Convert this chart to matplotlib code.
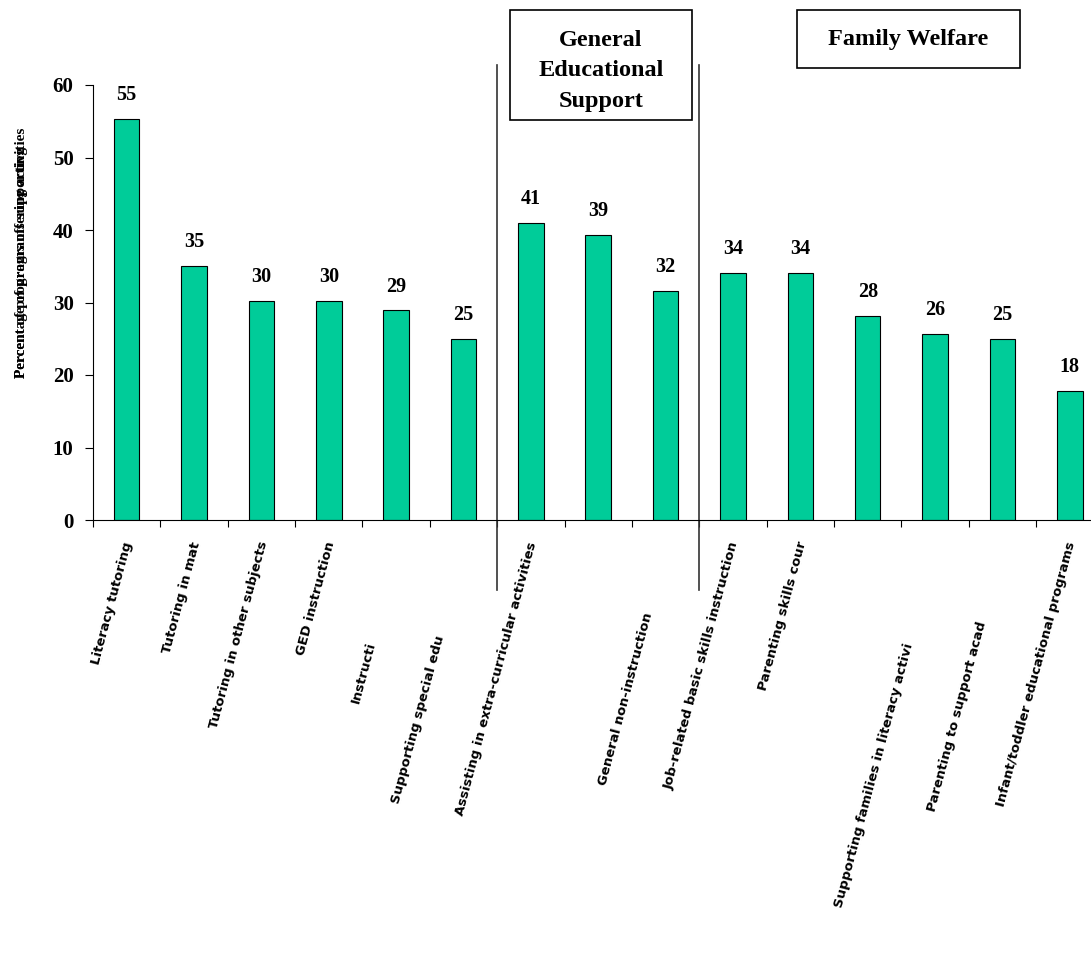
import numpy as np
import matplotlib.pyplot as plt
from matplotlib.patches import Rectangle
from matplotlib import transforms

# data
categories = [
    "Literacy tutoring",
    "Tutoring in mat",
    "Tutoring in other subjects",
    "GED instruction",
    "Instructi",
    "Supporting special edu",
    "Assisting in extra-curricular activities",
    "",
    "General non-instruction",
    "Job-related basic skills instruction",
    "Parenting skills cour",
    "",
    "Supporting families in literacy activi",
    "Parenting to support acad",
    "Infant/toddler educational programs",
]
values = [55.3, 35.1, 30.2, 30.2, 28.9, 25.0, 41.0, 39.3, 31.6,
          34.1, 34.1, 28.2, 25.7, 25.0, 17.8]
group_names = ["General\nEducational\nSupport", "Family Welfare"]
ylabel_a = "Percent of programs offering activities"
ylabel_b = "Percentage of programs supporting"

# label clipping in the original: visible part starts lower (pixels)
label_shift = [0, 0, 0, 0, 104, 97, 0, 0, 74, 0, 0, 0, 105, 83, 0]

W, H, DPI = 1091, 960, 100
fig = plt.figure(figsize=(W / DPI, H / DPI), dpi=DPI)
ax = fig.add_axes([93 / W, 1 - 520 / H, 997 / W, 435 / H])

serif = "Liberation Serif"
bar_color = "#00CC99"

x = np.arange(len(values))
ax.bar(x, values, width=0.38, color=bar_color, edgecolor="black", linewidth=0.8)

for xi, v in zip(x, values):
    ax.annotate(f"{v:.0f}", (xi, v), xytext=(0, 10), textcoords="offset points",
                ha="center", va="bottom", fontsize=14.5, fontweight="bold",
                family=serif)

ax.set_yticks(range(0, 61, 10))
ax.set_xticks(np.arange(-0.5, 14, 1))
ax.set_xticklabels([])
ax.set_xlim(-0.5, 14.3)
ax.set_ylim(0, 60)
ax.tick_params(axis="x", direction="out", length=5, width=0.8)
ax.tick_params(axis="y", direction="out", length=6, width=0.8, pad=8)
for lab in ax.get_yticklabels():
    lab.set_fontsize(15)
    lab.set_fontweight("bold")
    lab.set_family(serif)
for s in ["top", "right"]:
    ax.spines[s].set_visible(False)
for s in ["left", "bottom"]:
    ax.spines[s].set_linewidth(0.8)

# rotated category labels
ang = np.deg2rad(75)
base = transforms.blended_transform_factory(ax.transData, ax.transAxes)
for xi, lab, sh in zip(x, categories, label_shift):
    if not lab:
        continue
    off = transforms.ScaledTranslation(-sh * np.cos(ang) / DPI,
                                       -sh * np.sin(ang) / DPI,
                                       fig.dpi_scale_trans)
    ax.text(xi + 0.03, -0.05, lab, transform=base + off, rotation=75,
            rotation_mode="anchor", ha="right", va="center",
            fontsize=9.5, fontweight="bold", family="DejaVu Sans",
            clip_on=False)

# group dividers
for xd in [5.5, 8.5]:
    ax.plot([xd, xd], [1 + 20 / 435, -70 / 435], transform=base,
            color="#333333", linewidth=1.2, clip_on=False)

# group title boxes (figure pixel coords)
boxes = [(510, 10, 692, 120), (797, 10, 1020, 68)]
text_dy = [6, 0]
for (x0, y0, x1, y1), name, dy in zip(boxes, group_names, text_dy):
    fig.patches.append(Rectangle((x0 / W, 1 - y1 / H), (x1 - x0) / W, (y1 - y0) / H,
                                 transform=fig.transFigure, fill=False,
                                 edgecolor="black", linewidth=1.2))
    fig.text((x0 + x1) / 2 / W, 1 - ((y0 + y1) / 2 + dy) / H, name, ha="center",
             va="center", fontsize=17.5, fontweight="bold", family=serif,
             linespacing=1.6)

# overlapping y labels as in the original
for t in [ylabel_a, ylabel_b]:
    fig.text(21 / W, 1 - 378 / H, t, rotation=90, rotation_mode="anchor",
             ha="left", va="center", fontsize=11, fontweight="bold", family=serif)

fig.savefig("out.png", dpi=DPI)
